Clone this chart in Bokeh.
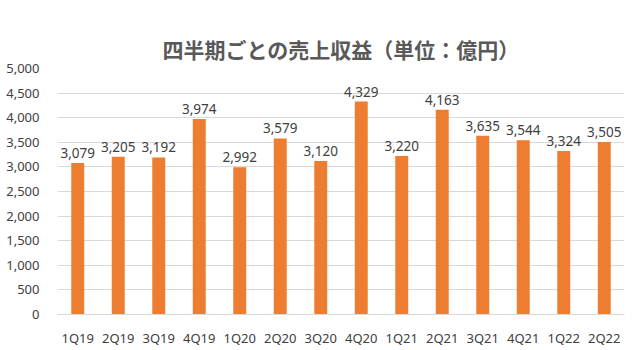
from bokeh.plotting import figure
from bokeh.models import ColumnDataSource, LabelSet, NumeralTickFormatter, FixedTicker, Range1d, Title
from bokeh.core.properties import value
from bokeh.embed import file_html
from bokeh.resources import INLINE

quarters = ["1Q19", "2Q19", "3Q19", "4Q19", "1Q20", "2Q20", "3Q20", "4Q20",
            "1Q21", "2Q21", "3Q21", "4Q21", "1Q22", "2Q22"]
revenue = [3079, 3205, 3192, 3974, 2992, 3579, 3120, 4329, 3220, 4163, 3635, 3544, 3324, 3505]
y_ticks = [0, 500, 1000, 1500, 2000, 2500, 3000, 3500, 4000, 4500, 5000]
labels = [f"{v:,}" for v in revenue]
title_text = "四半期ごとの売上収益（単位：億円）"

src = ColumnDataSource(dict(q=quarters, v=revenue, lab=labels))

FONT = "Noto Sans"

p = figure(x_range=quarters, width=640, height=350, output_backend="svg",
           toolbar_location=None,
           min_border_left=57, min_border_right=16, min_border_top=68, min_border_bottom=36)
p.y_range = Range1d(0, 5000)
p.x_range.range_padding = 0

p.vbar(x="q", top="v", width=0.32, source=src, color="#ED7D31", line_color=None)
p.add_layout(LabelSet(x="q", y="v", text="lab", source=src, text_align="center",
                      text_baseline="bottom", y_offset=5, text_font_size=value("13.5px"),
                      text_color="#404040", text_font=value(FONT)))

# invisible spacer between the frame and the title
p.add_layout(Title(text="-", text_alpha=0, text_font_size="7px", standoff=0), "above")
p.add_layout(Title(text=title_text, align="center", offset=-6,
                   text_font="Noto Sans CJK JP", text_font_size="21px",
                   text_font_style="bold", text_color="#595959"), "above")

p.outline_line_color = None
p.background_fill_color = "white"
p.border_fill_color = "white"
p.xgrid.grid_line_color = None
p.ygrid.grid_line_color = "#d9d9d9"
p.yaxis.ticker = FixedTicker(ticks=y_ticks)
p.yaxis.formatter = NumeralTickFormatter(format="0,0")
p.yaxis.axis_line_color = None
p.yaxis.major_tick_line_color = None
p.yaxis.minor_tick_line_color = None
p.yaxis.major_label_standoff = 12
p.xaxis.axis_line_color = "#d9d9d9"
p.xaxis.major_tick_line_color = None
p.xaxis.minor_tick_line_color = None
p.xaxis.major_label_standoff = 8
for ax in (p.xaxis, p.yaxis):
    ax.major_label_text_font = FONT
    ax.major_label_text_font_size = "13px"
    ax.major_label_text_color = "#404040"

open("out.html", "w").write(file_html(p, INLINE))
